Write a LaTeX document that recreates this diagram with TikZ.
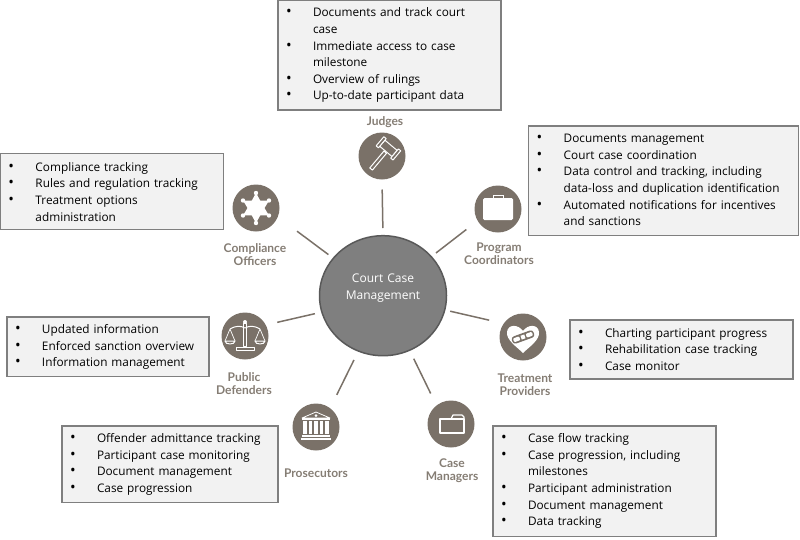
\documentclass[tikz,border=0pt]{standalone}
\usepackage{fontspec}
\usetikzlibrary{shapes.geometric}
\setmainfont{Open Sans}
\newfontfamily\lblfont{Lato}
\definecolor{icongrey}{HTML}{7A7168}
\definecolor{lblgrey}{HTML}{857D74}
\definecolor{hubfill}{HTML}{7F7F7F}
\definecolor{hubline}{HTML}{595959}
\definecolor{boxfill}{HTML}{F2F2F2}
\definecolor{boxline}{HTML}{7F7F7F}
\newcommand{\li}[1]{\par\noindent\hbox to 27pt{{\fontsize{15}{15}\selectfont\textbullet}\hfil}#1}
\newcommand{\lc}[1]{\par\noindent\hspace*{27pt}#1}
\tikzset{
  infobox/.style={draw=boxline,line width=1.3pt,fill=boxfill,anchor=north west,rectangle,inner xsep=8pt,inner ysep=0pt,outer sep=0pt,align=left,
    font=\fontsize{11.8}{16.6}\selectfont,text=black,execute at end node={\par\vspace*{#1pt}}},
  iconcirc/.style={circle,fill=icongrey,minimum size=47pt,inner sep=0pt,outer sep=0pt},
  hubcirc/.style={ellipse,fill=hubfill,draw=hubline,line width=1.5pt,minimum width=127pt,minimum height=120pt,inner sep=0pt,outer sep=0pt,text=white,align=center,text width=80pt,font=\fontsize{12}{16.6}\selectfont,execute at end node={\par\vspace*{15pt}}},
  rolelabel/.style={text=lblgrey,align=center,inner sep=0pt,font=\lblfont\bfseries\fontsize{12}{13}\selectfont},
  spoke/.style={draw=icongrey,line width=1.5pt},
  glyph/.style={draw=white,line width=1pt,fill=none,line join=round}
}
\begin{document}
\begin{tikzpicture}[x=1pt,y=-1pt]
\useasboundingbox (0,0) rectangle (800,539);
% hub and icons
\node[hubcirc] (hub) at (383,295.7) {Court Case\\Management};
\node[iconcirc] (judges) at (382,156) {};
\node[iconcirc] (program) at (498,209) {};
\node[iconcirc] (compliance) at (256,208) {};
\node[iconcirc] (public) at (245,336) {};
\node[iconcirc] (prosecutors) at (316,427) {};
\node[iconcirc] (casem) at (451,424) {};
\node[iconcirc] (treatment) at (523,337) {};
% connectors
\draw[spoke,shorten <=7.7pt,shorten >=10pt] (hub.90) -- (judges.-90);
\draw[spoke,shorten <=6pt,shorten >=14.3pt] (hub.39) -- (program.210.8);
\draw[spoke,shorten <=6.2pt,shorten >=24pt] (hub.143.6) -- (compliance.-22.2);
\draw[spoke,shorten <=7.2pt,shorten >=11.8pt] (hub.195.4) -- (public.28.1);
\draw[spoke,shorten <=10pt,shorten >=15pt] (hub.246.1) -- (prosecutors.53.9);
\draw[spoke,shorten <=9.5pt,shorten >=13.4pt] (hub.-64.9) -- (casem.128.3);
\draw[spoke,shorten <=5.6pt,shorten >=15pt] (hub.-13.9) -- (treatment.145.4);
% labels
\node[rolelabel] (ljudges) at (385,121.7) {Judges};
\node[rolelabel] (lprogram) at (499,254.2) {Program\\Coordinators};
\node[rolelabel] (lcompliance) at (255,254.8) {Compliance\\Officers};
\node[rolelabel] (lpublic) at (244,383.8) {Public\\Defenders};
\node[rolelabel] (lprosecutors) at (316,473) {Prosecutors};
\node[rolelabel] (lcase) at (452,470.5) {Case\\Managers};
\node[rolelabel] (ltreatment) at (525,384.5) {Treatment\\Providers};
% boxes
\node[infobox=7,text width=207pt,minimum height=110pt] (bjudges) at (278,0) {\li{Documents and track court}\lc{case}\li{Immediate access to case}\lc{milestone}\li{Overview of rulings}\li{Up-to-date participant data}};
\node[infobox=10,text width=254pt,minimum height=109pt] (bprogram) at (528.7,126) {\li{Documents management}\li{Court case coordination}\li{Data control and tracking, including}\lc{data-loss and duplication identification}\li{Automated notifications for incentives}\lc{and sanctions}};
\node[infobox=7,text width=207pt,minimum height=76pt] (bcompliance) at (0.5,153.5) {\li{Compliance tracking}\li{Rules and regulation tracking}\li{Treatment options}\lc{administration}};
\node[infobox=7,text width=186pt,minimum height=59pt] (bpublic) at (7,317) {\li{Updated information}\li{Enforced sanction overview}\li{Information management}};
\node[infobox=7,text width=200pt,minimum height=76pt] (bprosecutors) at (62,426) {\li{Offender admittance tracking}\li{Participant case monitoring}\li{Document management}\li{Case progression}};
\node[infobox=8,text width=207pt,minimum height=110pt] (bcase) at (493,426) {\li{Case flow tracking}\li{Case progression, including}\lc{milestones}\li{Participant administration}\li{Document management}\li{Data tracking}};
\node[infobox=8,text width=207pt,minimum height=59pt] (btreatment) at (570,320) {\li{Charting participant progress}\li{Rehabilitation case tracking}\li{Case monitor}};
% gavel
\begin{scope}[shift={(judges.center)},rotate=-40]
  \draw[glyph] (-1.7,-5) rectangle (1.7,17);
  \fill[icongrey,draw=white,line width=1pt] (-8,-14) rectangle (8,-6);
  \draw[glyph,fill=icongrey] (-11,-16) rectangle (-8,-4);
  \draw[glyph,fill=icongrey] (8,-16) rectangle (11,-4);
\end{scope}
% briefcase
\begin{scope}[shift={(program.center)}]
  \fill[white,rounded corners=1.5pt] (-15,-11) rectangle (15,11);
  \draw[white,line width=1pt] (-5,-11) -- (-5,-14) -- (5,-14) -- (5,-11);
\end{scope}
% star
\begin{scope}[shift={(compliance.center)}]
  \fill[white] (90:15) -- (120:8.5) -- (150:15) -- (180:8.5) -- (210:15) -- (240:8.5) -- (270:15) -- (300:8.5) -- (330:15) -- (0:8.5) -- (30:15) -- (60:8.5) -- cycle;
  \foreach \a in {30,90,...,330} \fill[white] (\a:15) circle (2.2pt);
\end{scope}
% scales
\begin{scope}[shift={(public.center)}]
  \draw[glyph] (-1.5,-13) rectangle (1.5,10);
  \fill[white] (0,-14) circle (2pt);
  \draw[glyph] (-15,-7) .. controls (-8,-11) and (-4,-10) .. (0,-8) .. controls (4,-10) and (8,-11) .. (15,-7);
  \draw[glyph,line width=.7pt] (-15,-7) -- (-20,5) (-15,-7) -- (-10,5) (15,-7) -- (20,5) (15,-7) -- (10,5);
  \draw[glyph] (-20,5) -- (-10,5) .. controls (-10,9) and (-20,9) .. (-20,5);
  \draw[glyph] (20,5) -- (10,5) .. controls (10,9) and (20,9) .. (20,5);
  \draw[glyph] (-9,11) rectangle (9,14);
\end{scope}
% courthouse
\begin{scope}[shift={(prosecutors.center)}]
  \draw[glyph,line width=.8pt] (-14,-9) -- (0,-15) -- (14,-9) -- cycle;
  \fill[white] (-14,-9) rectangle (14,-7);
  \foreach \x in {-11,-5.5,0,5.5,11} \fill[white] (\x-1.7,-6) rectangle (\x+1.7,7);
  \fill[white] (-14,8) rectangle (14,10);
  \fill[white] (-15,11) rectangle (15,13);
  \fill[white] (0,-11.5) circle (1.5pt);
\end{scope}
% folder
\begin{scope}[shift={(casem.center)}]
  \draw[glyph,line width=1.2pt] (-11,-5) -- (13,-5) -- (13,9) -- (-11,9) -- cycle;
  \draw[glyph,line width=1.2pt] (0,-5) -- (2,-9) -- (11,-9) -- (13,-7) -- (13,-5);
\end{scope}
% heart with bandage
\begin{scope}[shift={(treatment.center)}]
  \fill[white] (0,16) .. controls (-6,10) and (-17,3) .. (-16,-5) .. controls (-15,-13) and (-5,-13) .. (0,-6) .. controls (5,-13) and (15,-13) .. (16,-5) .. controls (17,3) and (6,10) .. (0,16) -- cycle;
  \begin{scope}[rotate=20]
    \fill[icongrey,rounded corners=3pt] (-11.5,-3.8) rectangle (11.5,3.8);
    \fill[white] (-2,-2) rectangle (2,2);
    \fill[white,rounded corners=1pt] (-10,-2) rectangle (-3.5,2);
    \fill[white,rounded corners=1pt] (3.5,-2) rectangle (10,2);
  \end{scope}
\end{scope}
\end{tikzpicture}
\end{document}
